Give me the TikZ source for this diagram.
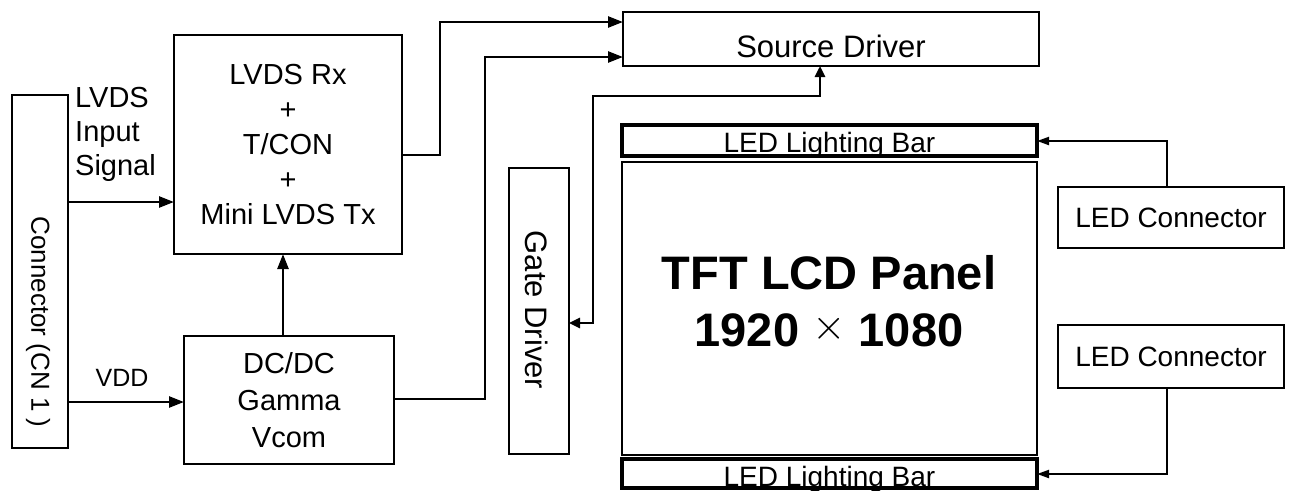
\documentclass[tikz,border=0pt]{standalone}
\usepackage{fontspec}
\setmainfont{Liberation Sans}
\usetikzlibrary{arrows.meta}
\begin{document}
\begin{tikzpicture}[x=1pt,y=-1pt,
  box/.style={draw,line width=2.5pt,inner sep=0pt,outer sep=0pt},
  thickbox/.style={draw,line width=3.2pt,inner sep=0pt,outer sep=0pt},
  thinbox/.style={draw,line width=2.2pt,inner sep=0pt,outer sep=0pt},
  lbl/.style={inner sep=0pt,align=center},
  fsz/.style={font=\fontsize{#1}{#1}\selectfont},
  conn/.style={line width=2.5pt,-{Triangle[length=15pt,width=11pt]}},
  bothconn/.style={line width=2.5pt,{Triangle[length=11pt,width=10pt]}-{Triangle[length=11pt,width=10pt]}},
  ledconn/.style={line width=2pt,-{Triangle[length=12pt,width=8pt]}}]
\useasboundingbox (0,0) rectangle (1290,490);

% boxes
\node[box, minimum width=56, minimum height=353] (cn) at (40,271.5) {};
\node[box, minimum width=228, minimum height=219, lbl, font=\fontsize{29}{35}\selectfont] (lvds) at (288,144.5) {LVDS Rx\\+\\T/CON\\+\\Mini LVDS Tx};
\node[box, minimum width=210, minimum height=128, lbl, font=\fontsize{29}{37}\selectfont] (dc) at (289,400) {DC/DC\\Gamma\\Vcom};
\node[box, minimum width=416, minimum height=54] (src) at (831,39) {};
\node[box, minimum width=60, minimum height=286] (gate) at (539,311) {};
\node[thickbox, minimum width=415, minimum height=31] (bar1) at (829.5,140.5) {};
\node[box, minimum width=415, minimum height=293] (panel) at (829.5,308.5) {};
\node[thickbox, minimum width=415, minimum height=29] (bar2) at (829.5,473.5) {};
\node[thinbox, minimum width=226, minimum height=61, lbl, fsz=28] (led1) at (1171,217.5) {LED Connector};
\node[thinbox, minimum width=226, minimum height=63, lbl, fsz=28] (led2) at (1171,356.5) {LED Connector};

% labels
\node[lbl, fsz=26, rotate=-90] (cntext) at (38,322) {Connector (CN 1 )};
\node[lbl, fsz=31, rotate=-90] (gatetext) at (537,310) {Gate Driver};
\node[lbl, fsz=31, anchor=base] (srctext) at (831,57) {Source Driver};
\node[lbl, fsz=28, anchor=base] (bar1text) at (829.5,152) {LED Lighting Bar};
\node[lbl, fsz=28, anchor=base] (bar2text) at (829.5,486) {LED Lighting Bar};
\node[lbl, font=\fontsize{47}{57}\selectfont\bfseries] (paneltext) at (829,301.5) {TFT LCD Panel\\1920 {\mdseries\raisebox{7pt}{\fontsize{10}{12}\selectfont\scalebox{4.3}{$\times$}}} 1080};
\node[lbl, font=\fontsize{29}{34}\selectfont, align=left, anchor=west] (intext) at (75,134) {LVDS\\Input\\Signal};
\node[lbl, fsz=25] (vddtext) at (122,378) {VDD};

% connectors
\draw[conn] (cn.east |- 0,202) -- (lvds.west |- 0,202);
\draw[conn] (cn.east |- 0,402) -- (dc.west |- 0,402);
\draw[conn] (dc.north -| 283,0) -- (lvds.south -| 283,0);
\draw[conn] (lvds.east |- 0,155) -- (440,155) -- (440,22) -- (src.west |- 0,22);
\draw[conn] (dc.east |- 0,399) -- (485,399) -- (485,57) -- (src.west |- 0,57);
\draw[bothconn] (gate.east |- 0,323) -- (593,323) -- (593,96) -- (820,96) -- (src.south -| 820,0);
\draw[ledconn] (led1.north -| 1167,0) -- (1167,141) -- (bar1.east |- 0,141);
\draw[ledconn] (led2.south -| 1167,0) -- (1167,474) -- (bar2.east |- 0,474);
\end{tikzpicture}
\end{document}
